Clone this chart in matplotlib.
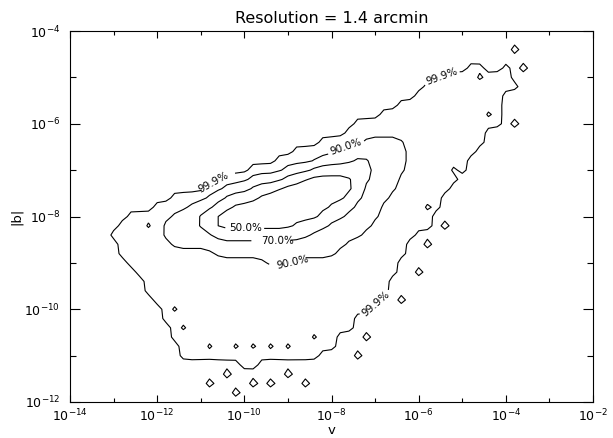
import numpy as np
import matplotlib
matplotlib.use("Agg")
import matplotlib.pyplot as plt
from matplotlib import ticker

title = "Resolution = 1.4 arcmin"
x_label = "v"
y_label = "|b|"

# 2-d histogram of (v, |b|) in 0.2 dex bins.
# each bin holds the highest-probability region it falls into:
# '.' empty, '1' inside 99.9%, '3' inside 90%, '5' inside 70%, '7' inside 50%
# 'o' isolated sparse bins outside, 'h' / 'x' empty bins inside the outer region
log_v = np.linspace(-14.0, -2.0, 61)   # bin centres, columns
log_b = np.linspace(-4.0, -12.0, 41)   # bin centres, rows (top to bottom)
rows = [
    ".......... .......... .......... .......... .......... .......... .",
    ".......... .......... .......... .......... .......... .......... .",
    ".......... .......... .......... .......... .......... .o........ .",
    ".......... .......... .......... .......... .......... .......... .",
    ".......... .......... .......... .......... ......11.. 1.o....... .",
    ".......... .......... .......... .......... ...1111x11 1......... .",
    ".......... .......... .......... .......... .111111111 11........ .",
    ".......... .......... .......... .......... 1111111111 .......... .",
    ".......... .......... .......... ........11 1111111111 .......... .",
    ".......... .......... .......... ......1111 11111111h1 .......... .",
    ".......... .......... .......... ...1111111 1111111111 .o........ .",
    ".......... .......... .......... ..11111111 11111111.. .......... .",
    ".......... .......... .........1 1111333331 11111111.. .......... .",
    ".......... .......... ......1111 1333333331 1111111... .......... .",
    ".......... .......... ....111113 3335533331 111111.... .......... .",
    ".......... .......... .111133355 5555533331 1111h1.... .......... .",
    ".......... ........11 1333355777 7775533311 11111..... .......... .",
    ".......... ......1133 3555777777 7775333311 1111...... .......... .",
    ".......... ..11113355 5577777777 7755333111 111....... .......... .",
    ".......... 1111333557 7777777777 5553331111 1h1....... .......... .",
    ".......111 1133355777 7777777775 5533331111 11........ .......... .",
    "......111h 1333355777 7777775555 3333311111 11.o...... .......... .",
    ".....11111 1333333555 5555555533 3333111111 .......... .......... .",
    "......1111 1133333333 3333333333 331111111. .o........ .......... .",
    "......1111 1111111333 3333333333 311111111. .......... .......... .",
    ".......111 1111111111 1113331111 11111111.. .......... .......... .",
    "........11 1111111111 1111111111 11111111.. o......... .......... .",
    ".........1 1111111111 1111111111 1111111... .......... .......... .",
    ".........1 1111111111 1111111111 1111111... .......... .......... .",
    ".......... 1111111111 1111111111 111111..o. .......... .......... .",
    ".......... .1h1111111 1111111111 11111..... .......... .......... .",
    ".......... .111111111 1111111111 111....... .......... .......... .",
    ".......... ..1h111111 1111111111 111....... .......... .......... .",
    ".......... ..11111111 11111111h1 1...o..... .......... .......... .",
    ".......... ...111h11h 1h1h1h1111 1......... .......... .......... .",
    ".......... ...1111111 111111111. ...o...... .......... .......... .",
    ".......... .......... 11........ .......... .......... .......... .",
    ".......... ........o. .....o.... .......... .......... .......... .",
    ".......... ......o... .o.o...o.. .......... .......... .......... .",
    ".......... .........o .......... .......... .......... .......... .",
    ".......... .......... .......... .......... .......... .......... .",
]
cell_value = {".": 0.0, "x": 0.0, "h": 0.0, "o": 1.3,
              "1": 1.0, "3": 3.0, "5": 5.0, "7": 7.0}

levels = [0.5, 2.0, 4.0, 6.0]
level_labels = ["99.9%", "90.0%", "70.0%", "50.0%"]

grid = np.array([[cell_value[ch] for ch in r.replace(" ", "")] for r in rows])

# 1-2-1 smoothing: full for the well-sampled inner contours,
# half for the noisy outer one
k = np.array([0.25, 0.5, 0.25])
smooth = np.apply_along_axis(lambda r: np.convolve(r, k, mode="same"), 1, grid)
smooth = np.apply_along_axis(lambda c: np.convolve(c, k, mode="same"), 0, smooth)
outer = 0.5 * grid + 0.5 * smooth

fig = plt.figure(figsize=(6.13, 4.38), dpi=100)
ax = fig.add_axes([0.1142, 0.0822, 0.8532, 0.847])

ax.set_xscale("log")
ax.set_yscale("log")
ax.set_xlim(1e-14, 1e-2)
ax.set_ylim(1e-12, 1e-4)

V, B = np.meshgrid(10.0 ** log_v, 10.0 ** log_b)

# where the labels sit on each contour (log10 v, log10 |b|)
label_spots = {
    0.5: [(-10.67, -7.40), (-5.47, -4.99), (-7.12, -9.73)],
    2.0: [(-7.69, -6.46), (-8.89, -9.00)],
    4.0: [(-9.23, -8.55)],
    6.0: [(-9.96, -8.31)],
}
for lvl, txt in zip(levels, level_labels):
    z = outer if lvl < 1 else smooth
    cs = ax.contour(V, B, z, levels=[lvl], colors="black", linewidths=0.8)
    spots = [(10.0 ** a, 10.0 ** b) for a, b in label_spots[lvl]]
    cs.clabel(fmt={lvl: txt}, manual=spots, fontsize=7.5,
              inline=True, inline_spacing=3)

ax.xaxis.set_major_locator(ticker.FixedLocator(10.0 ** np.arange(-14, -1, 2)))
ax.xaxis.set_minor_locator(ticker.FixedLocator(10.0 ** np.arange(-13, -2, 2)))
ax.yaxis.set_major_locator(ticker.FixedLocator(10.0 ** np.arange(-12, -3, 2)))
ax.yaxis.set_minor_locator(ticker.FixedLocator(10.0 ** np.arange(-11, -4, 2)))
ax.xaxis.set_minor_formatter(ticker.NullFormatter())
ax.yaxis.set_minor_formatter(ticker.NullFormatter())

ax.tick_params(which="both", direction="in", top=True, right=True,
               width=0.8, labelsize=9)
ax.tick_params(axis="x", which="major", length=5.3, pad=4)
ax.tick_params(axis="x", which="minor", length=2.6)
ax.tick_params(axis="y", which="major", length=7.5, pad=7)
ax.tick_params(axis="y", which="minor", length=4.3)
for s in ax.spines.values():
    s.set_linewidth(0.8)

ax.set_title(title, fontsize=11.5, pad=6)
ax.set_xlabel(x_label, fontsize=9.5, labelpad=0)
ax.set_ylabel(y_label, fontsize=9.5, labelpad=1)

fig.savefig("out.png", dpi=100)
